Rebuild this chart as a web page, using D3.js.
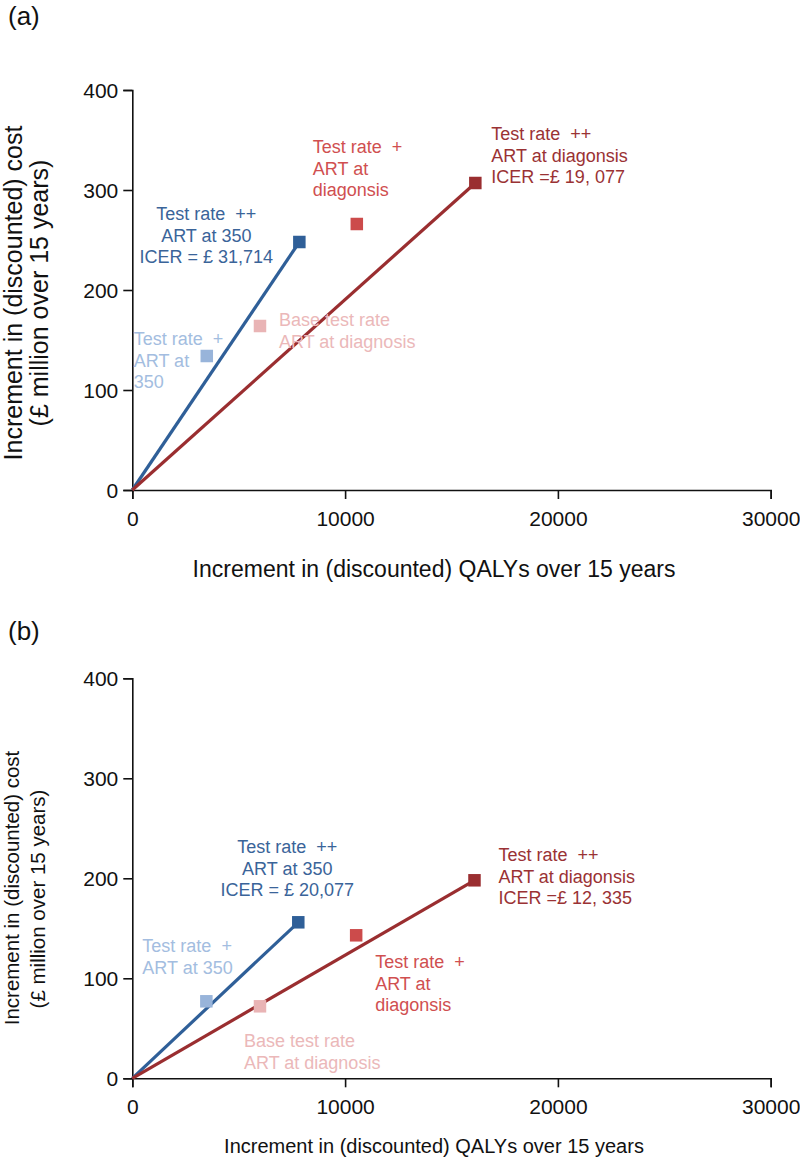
<!DOCTYPE html>
<html>
<head>
<meta charset="utf-8">
<script src="https://cdn.jsdelivr.net/npm/d3@7"></script>
<style>
  html, body { margin: 0; padding: 0; background: #fff; }
  svg { display: block; font-family: "Liberation Sans", Arial, Helvetica, sans-serif; }
</style>
</head>
<body>
<svg id="chart" width="800" height="1164"></svg>
<script>
// ---------------- DATA ----------------
const categories = [
  "Test rate + ART at 350",
  "Base test rate ART at diagnosis",
  "Test rate ++ ART at 350",
  "Test rate + ART at diagnosis",
  "Test rate ++ ART at diagnosis"
];
// Panel (a)
const qalysA = [3500, 6000, 7850, 10550, 16120];
const costA  = [134, 164, 248, 266, 307];
const labelsA = [
  ["Test rate  +", "ART at", "350"],
  ["Base test rate", "ART at diagnosis"],
  ["Test rate  ++", "ART at 350", "ICER = £ 31,714"],
  ["Test rate  +", "ART at", "diagonsis"],
  ["Test rate  ++", "ART at diagonsis", "ICER =£ 19, 077"]
];
// Panel (b)
const qalysB = [3480, 6000, 7800, 10520, 16080];
const costB  = [77, 72, 156, 143, 198];
const labelsB = [
  ["Test rate  +", "ART at 350"],
  ["Base test rate", "ART at diagnosis"],
  ["Test rate  ++", "ART at 350", "ICER = £ 20,077"],
  ["Test rate  +", "ART at", "diagonsis"],
  ["Test rate  ++", "ART at diagonsis", "ICER =£ 12, 335"]
];
// Lines from origin to the "++" strategies (indices)
const lineEnds = [2, 4];
const xTicks = [0, 10000, 20000, 30000];
const yTicks = [0, 100, 200, 300, 400];
const xTitle = "Increment in (discounted) QALYs over 15 years";
const yTitle = ["Increment in (discounted) cost", "(£ million over 15 years)"];

// ---------------- STYLE ----------------
const colors = ["#98b4da", "#e9b4b5", "#2f5f98", "#cc4b4b", "#9a2e30"];
const textColors = ["#a3bde0", "#ebb8b9", "#3a6499", "#d04f50", "#9a3234"];
const lineColors = {2: "#2f5f98", 4: "#9a2e30"};

const panels = [
  {
    tag: "(a)", tagY: 25,
    qalys: qalysA, cost: costA, labels: labelsA,
    yRange: [490, 90],
    xTitleY: 577, xTitleSize: 23,
    yTitleSize: 25, yTitleCY: [293, 293], yTitleX: [22, 48],
    // label anchor: [dx, dy(first baseline), anchor]
    lab: [[-73, -11, "start"], [19, 0, "start"], [-93, -22, "middle"], [-44, -71, "start"], [16, -43, "start"]]
  },
  {
    tag: "(b)", tagY: 640,
    qalys: qalysB, cost: costB, labels: labelsB,
    yRange: [1078.3, 678.3],
    xTitleY: 1153, xTitleSize: 20,
    yTitleSize: 20.5, yTitleCY: [888, 899], yTitleX: [19, 45],
    lab: [[-64, -49, "start"], [-16, 41, "start"], [-11, -69, "middle"], [19, 33, "start"], [24, -19, "start"]]
  }
];

const svg = d3.select("#chart");
const lineH = 21.5;
const sq = 12.5;

panels.forEach(p => {
  const x = d3.scaleLinear().domain([0, 30000]).range([132.3, 770.7]);
  const y = d3.scaleLinear().domain([0, 400]).range(p.yRange);
  const g = svg.append("g");

  // panel tag
  svg.append("text").attr("x", 8).attr("y", p.tagY)
    .attr("font-size", 26).attr("fill", "#111").text(p.tag);

  // axes
  const xAxis = g.append("g").attr("transform", `translate(0,${y(0)})`)
    .call(d3.axisBottom(x).tickValues(xTicks).tickFormat(d3.format("d")).tickSizeOuter(0).tickSize(9).tickPadding(7));
  const yAxis = g.append("g").attr("transform", `translate(${x(0)},0)`)
    .call(d3.axisLeft(y).tickValues(yTicks).tickFormat(d3.format("d")).tickSizeOuter(0).tickSize(9).tickPadding(5));
  [xAxis, yAxis].forEach(a => {
    a.selectAll("path").attr("stroke", "#111").attr("stroke-width", 1.6);
    a.selectAll("line").attr("stroke", "#111").attr("stroke-width", 1.6);
    a.selectAll("text").attr("font-size", 21).attr("fill", "#111")
      .attr("font-family", "'Liberation Sans', Arial, sans-serif");
  });
  xAxis.selectAll(".tick text").attr("dy", "0.95em");
  yAxis.selectAll(".tick text").attr("dy", "0.36em");

  // axis titles
  g.append("text").attr("x", 434).attr("y", p.xTitleY)
    .attr("text-anchor", "middle").attr("font-size", p.xTitleSize).attr("fill", "#111")
    .text(xTitle);
  yTitle.forEach((t, i) => {
    g.append("text")
      .attr("transform", `translate(${p.yTitleX[i]},${p.yTitleCY[i]}) rotate(-90)`)
      .attr("text-anchor", "middle").attr("font-size", p.yTitleSize).attr("fill", "#111")
      .text(t);
  });

  // lines from origin
  const line = d3.line().x(d => x(d[0])).y(d => y(d[1]));
  lineEnds.forEach(i => {
    g.append("path")
      .attr("d", line([[0, 0], [p.qalys[i], p.cost[i]]]))
      .attr("fill", "none").attr("stroke", lineColors[i]).attr("stroke-width", 3.2);
  });

  // points
  g.selectAll("rect.pt").data(categories).enter().append("rect")
    .attr("class", "pt")
    .attr("x", (d, i) => x(p.qalys[i]) - sq / 2)
    .attr("y", (d, i) => y(p.cost[i]) - sq / 2)
    .attr("width", sq).attr("height", sq)
    .attr("fill", (d, i) => colors[i]);

  // labels
  p.labels.forEach((lines, i) => {
    const [dx, dy, anchor] = p.lab[i];
    const t = g.append("text")
      .attr("text-anchor", anchor)
      .attr("font-size", 18)
      .attr("fill", textColors[i]);
    lines.forEach((s, k) => {
      t.append("tspan")
        .attr("x", x(p.qalys[i]) + dx)
        .attr("y", y(p.cost[i]) + dy + k * lineH)
        .attr("xml:space", "preserve")
        .text(s);
    });
  });
});
</script>
</body>
</html>
